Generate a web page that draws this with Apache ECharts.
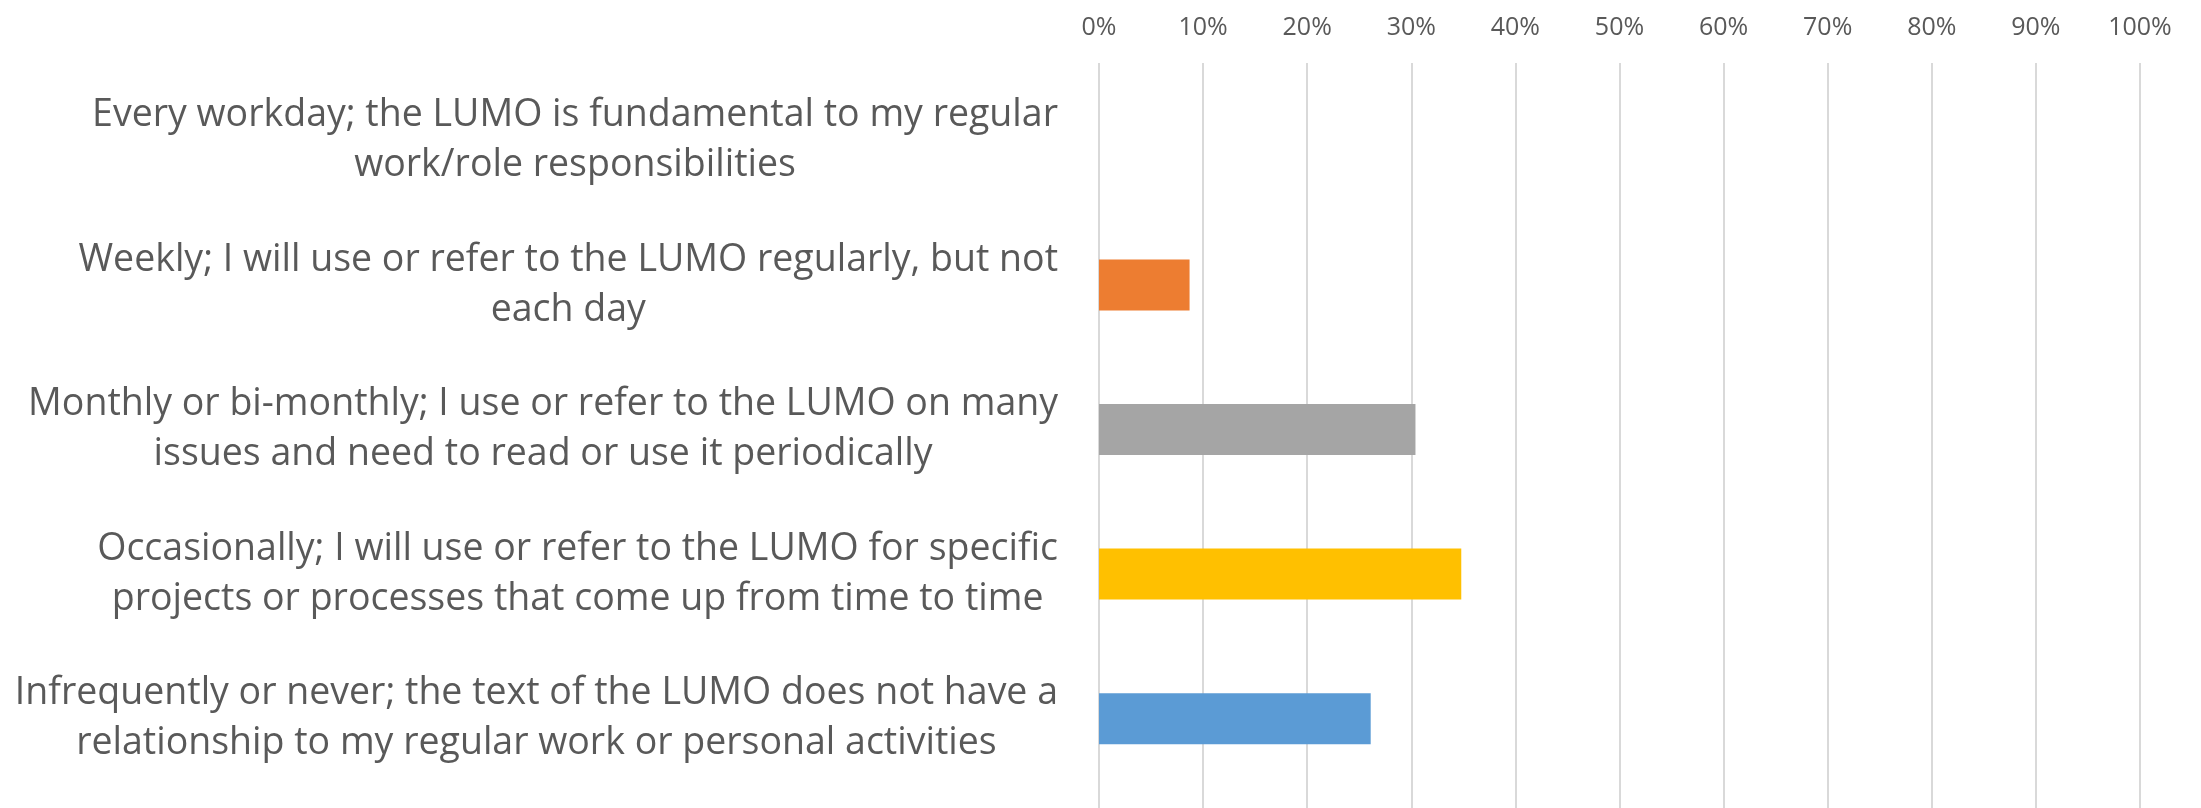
<!DOCTYPE html>
<html>
<head>
<meta charset="utf-8">
<style>
  html, body { margin: 0; padding: 0; background: #ffffff; }
  #chart { width: 2201px; height: 808px; }
</style>
<script src="https://cdn.jsdelivr.net/npm/echarts@6/dist/echarts.min.js"></script>
</head>
<body>
<div id="chart"></div>
<script>
// Survey answers, top to bottom; '\n' marks where each answer wraps.
const categories = [
  'Every workday; the LUMO is fundamental to my regular\nwork/role responsibilities',
  'Weekly; I will use or refer to the LUMO regularly, but not\neach day',
  'Monthly or bi-monthly; I use or refer to the LUMO on many\nissues and need to read or use it periodically',
  'Occasionally; I will use or refer to the LUMO for specific\nprojects or processes that come up from time to time',
  'Infrequently or never; the text of the LUMO does not have a\nrelationship to my regular work or personal activities'
];

// Share of respondents (%) for each answer.
const shares = [0, 8.7, 30.4, 34.8, 26.1];

// Bar colour for each answer.
const barColors = ['#4472C4', '#ED7D31', '#A5A5A5', '#FFC000', '#5B9BD5'];

// Percentage axis ticks.
const axisMin = 0;
const axisMax = 100;
const axisStep = 10;

const textColor = '#595959';
const gridColor = '#D9D9D9';
const fontFamily = '"Open Sans", "Noto Sans", sans-serif';

const chart = echarts.init(document.getElementById('chart'), null, { renderer: 'canvas' });

chart.setOption({
  animation: false,
  backgroundColor: '#ffffff',
  grid: [
    // plot area holding the bars
    { left: 1099, right: 61, top: 68, height: 723, containLabel: false },
    // taller area carrying the vertical gridlines and the top scale
    { left: 1099, right: 61, top: 63, bottom: 0, containLabel: false }
  ],
  xAxis: [
    {
      gridIndex: 0,
      type: 'value',
      min: axisMin,
      max: axisMax,
      interval: axisStep,
      axisLine: { show: false },
      axisTick: { show: false },
      axisLabel: { show: false },
      splitLine: { show: false }
    },
    {
      gridIndex: 1,
      type: 'value',
      position: 'top',
      min: axisMin,
      max: axisMax,
      interval: axisStep,
      axisLine: { show: false },
      axisTick: { show: false },
      axisLabel: {
        formatter: '{value}%',
        color: textColor,
        fontFamily: fontFamily,
        fontSize: 25,
        margin: 23
      },
      splitLine: { show: true, lineStyle: { color: gridColor, width: 2 } }
    }
  ],
  yAxis: [
    {
      gridIndex: 0,
      type: 'category',
      data: categories,
      inverse: true,
      axisLine: { show: false },
      axisTick: { show: false },
      splitLine: { show: false },
      axisLabel: {
        margin: 41,
        color: textColor,
        fontFamily: fontFamily,
        formatter: function (v) {
          return v.split('\n').map(function (line) { return '{c|' + line + '}'; }).join('\n');
        },
        rich: {
          c: {
            align: 'center',
            color: textColor,
            fontFamily: fontFamily,
            fontSize: 37.5,
            lineHeight: 50
          }
        }
      }
    },
    {
      gridIndex: 1,
      type: 'value',
      show: false
    }
  ],
  series: [
    {
      type: 'bar',
      xAxisIndex: 0,
      yAxisIndex: 0,
      barWidth: '35.3%',
      data: shares.map(function (v, i) {
        return { value: v, itemStyle: { color: barColors[i] } };
      })
    }
  ]
});
</script>
</body>
</html>
